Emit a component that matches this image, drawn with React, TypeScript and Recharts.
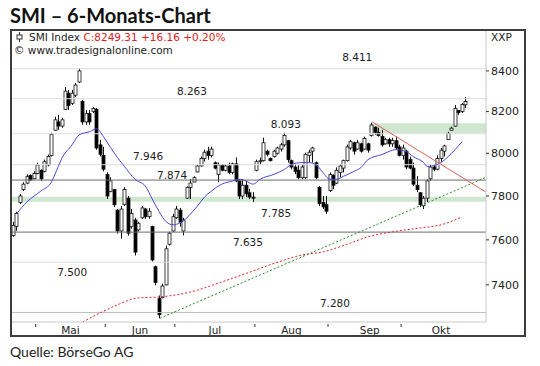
import { ComposedChart, Bar, Line, XAxis, YAxis, ReferenceLine, ReferenceArea, ReferenceDot } from 'recharts';

// daily SMI candles, Apr 22 - Oct 25
const opens = [
  7620, 7660, 7770, 7830, 7860, 7895, 7880, 7905, 7920, 7915, 7945, 7990, 8110, 8150, 8130, 8210, 8290, 8240, 8280, 8345,
  8250, 8150, 8190, 8200, 8210, 8040, 7990, 7900, 7820, 7830, 7735, 7640, 7760, 7790, 7660, 7690, 7645, 7700, 7740, 7705,
  7660, 7480, 7340, 7345, 7400, 7580, 7640, 7700, 7735, 7640, 7790, 7840, 7865, 7912, 7940, 7975, 8010, 7990, 7955, 7900,
  7945, 7920, 7940, 7910, 7950, 7870, 7800, 7850, 7815, 7795, 7920, 7960, 7965, 8010, 7975, 7985, 8000, 8020, 8040, 8060,
  7965, 7935, 7920, 7885, 7885, 7990, 8010, 7955, 7840, 7770, 7760, 7825, 7895, 7860, 7910, 7930, 7965, 8025, 8050, 8020,
  8045, 8020, 8045, 8085, 8125, 8100, 8080, 8045, 8065, 8045, 8060, 8030, 7990, 8010, 7970, 7930, 7850, 7815, 7755, 7790,
  7880, 7935, 7925, 7975, 8010, 8065, 8110, 8130, 8205, 8200, 8233,
];
const highs = [
  7682, 7727, 7809, 7864, 7901, 7901, 7915, 7956, 7924, 7970, 7994, 8098, 8175, 8184, 8170, 8320, 8306, 8306, 8340, 8411,
  8257, 8208, 8208, 8222, 8217, 8064, 8031, 7910, 7887, 7832, 7740, 7754, 7841, 7800, 7740, 7700, 7682, 7754, 7745, 7745,
  7664, 7485, 7354, 7406, 7574, 7637, 7718, 7754, 7745, 7700, 7845, 7878, 7892, 7947, 7984, 8017, 8031, 8031, 7961, 7956,
  7947, 7947, 7956, 7956, 7980, 7878, 7878, 7869, 7832, 7818, 7970, 7980, 8074, 8017, 7980, 8017, 8031, 8050, 8098, 8064,
  7970, 7947, 7947, 7947, 8003, 8017, 8031, 7961, 7846, 7800, 7800, 7910, 7901, 7933, 7947, 7970, 8041, 8064, 8055, 8064,
  8050, 8079, 8050, 8146, 8127, 8122, 8112, 8074, 8074, 8074, 8079, 8041, 8041, 8017, 7984, 7956, 7892, 7818, 7800, 7878,
  7947, 7947, 7990, 8025, 8041, 8102, 8127, 8232, 8208, 8242, 8271,
];
const lows = [
  7614, 7641, 7763, 7823, 7855, 7870, 7878, 7901, 7870, 7910, 7938, 7985, 8107, 8112, 8122, 8208, 8208, 8232, 8271, 8340,
  8136, 8136, 8136, 8193, 8017, 7985, 7915, 7786, 7818, 7749, 7628, 7605, 7754, 7619, 7650, 7530, 7637, 7695, 7695, 7695,
  7503, 7398, 7255, 7341, 7398, 7574, 7637, 7695, 7660, 7620, 7786, 7786, 7864, 7910, 7938, 7961, 7970, 7980, 7924, 7864,
  7915, 7915, 7901, 7901, 7864, 7786, 7786, 7795, 7786, 7772, 7915, 7947, 7961, 7985, 7961, 7980, 7994, 8008, 8031, 7956,
  7924, 7901, 7878, 7878, 7878, 7956, 7956, 7878, 7754, 7740, 7718, 7818, 7832, 7855, 7887, 7910, 7961, 8017, 7994, 8017,
  8003, 8017, 8003, 8079, 8088, 8079, 8031, 8041, 8031, 8031, 8017, 7985, 7970, 7924, 7924, 7846, 7818, 7749, 7740, 7772,
  7870, 7915, 7920, 7960, 7985, 8064, 8107, 8127, 8184, 8193, 8217,
];
const closes = [
  7665, 7720, 7800, 7855, 7890, 7875, 7905, 7945, 7880, 7960, 7985, 8090, 8160, 8130, 8160, 8300, 8230, 8290, 8330, 8400,
  8150, 8190, 8150, 8215, 8025, 7995, 7925, 7800, 7870, 7760, 7640, 7740, 7830, 7630, 7720, 7545, 7675, 7745, 7705, 7730,
  7510, 7410, 7270, 7395, 7560, 7630, 7705, 7740, 7680, 7690, 7840, 7860, 7885, 7940, 7975, 8005, 7990, 8020, 7930, 7945,
  7920, 7940, 7910, 7950, 7870, 7800, 7850, 7810, 7795, 7790, 7960, 7965, 8050, 7995, 7965, 8010, 8025, 8040, 8085, 7970,
  7935, 7915, 7885, 7935, 7995, 8005, 8025, 7885, 7765, 7750, 7730, 7900, 7850, 7920, 7940, 7965, 8030, 8055, 8010, 8050,
  8010, 8070, 8015, 8135, 8100, 8085, 8040, 8065, 8045, 8060, 8025, 7990, 8025, 7935, 7930, 7855, 7830, 7760, 7790, 7870,
  7935, 7925, 7975, 8015, 8035, 8095, 8120, 8215, 8195, 8235, 8249,
];

// blue moving average (read at these bar indices)
const maIdx = [1, 4, 8, 11, 13, 14, 17, 19, 22, 24, 26, 28, 30, 32, 35, 38, 40, 42, 44, 46, 48, 49, 51, 53, 55, 57, 60, 63, 65, 67, 69, 71, 75, 78, 80, 83, 85, 87, 89, 91, 93, 95, 98, 100, 102, 106, 110, 113, 115, 118, 119, 121, 123, 125, 127, 129];
const maVals = [7718, 7773, 7823, 7864, 7938, 7975, 8041, 8088, 8103, 8117, 8079, 8027, 7980, 7938, 7878, 7846, 7786, 7727, 7682, 7668, 7677, 7686, 7718, 7754, 7795, 7823, 7855, 7869, 7878, 7869, 7855, 7878, 7901, 7924, 7947, 7956, 7956, 7947, 7910, 7878, 7878, 7892, 7915, 7933, 7970, 7994, 8017, 8008, 7984, 7956, 7938, 7942, 7956, 7984, 8017, 8055];

// red long moving average
const slowIdx = [19, 25, 30, 36, 42, 51, 60, 68, 76, 83, 89, 97, 102, 109, 117, 123, 129];
const slowVals = [7231, 7278, 7313, 7343, 7347, 7369, 7413, 7456, 7500, 7532, 7546, 7586, 7614, 7636, 7654, 7668, 7704];

const monthStarts = [6.5, 26.5, 46.5, 69.5, 90.5, 111.5];
const monthMids = [16.5, 36.5, 58, 80, 102.5, 123];
const monthNames = ['Mai', 'Jun', 'Jul', 'Aug', 'Sep', 'Okt'];
const priceTicks = [7400, 7600, 7800, 8000, 8200, 8400];

const lightLevels = [8411, 8263, 8093, 7946, 7500, 7280];
const darkLevels = [7874, 7635];

const markLevels = [8411, 8263, 8093, 7946, 7874, 7785, 7635, 7500, 7280];
const markTexts = ['8.411', '8.263', '8.093', '7.946', '7.874', '7.785', '7.635', '7.500', '7.280'];
const markAt = [98.9, 51.4, 78.4, 38.8, 45.7, 75.6, 67.5, 17, 92.5];
const markDy = [-12, -8, -9.5, -8.7, -5, 13.7, 10, 10, -9.5];

const data = closes.map((c, i) => ({
  i,
  open: opens[i],
  high: highs[i],
  low: lows[i],
  close: c,
  range: [lows[i], highs[i]],
  ma: null as number | null,
  slow: null as number | null,
}));
maIdx.forEach((k, j) => (data[k].ma = maVals[j]));
slowIdx.forEach((k, j) => (data[k].slow = slowVals[j]));

function Candle(props: any) {
  const { x, y, width, height, payload } = props;
  if (x == null || !payload) return null;
  const { open, close, high, low } = payload;
  const cx = Math.round(x + width / 2) + 0.5;
  const span = Math.log(high) - Math.log(low) || 1;
  const py = (v: number) => y + (height * (Math.log(high) - Math.log(v))) / span;
  const top = py(Math.max(open, close));
  const bot = py(Math.min(open, close));
  const up = close >= open;
  return (
    <g>
      <line x1={cx} x2={cx} y1={y} y2={y + height} stroke="#111" strokeWidth={1} />
      <rect x={cx - 1.5} y={top} width={3} height={Math.max(bot - top, 1)}
        fill={up ? '#fff' : '#000'} stroke="#111" strokeWidth={0.8} />
    </g>
  );
}

function MonthTick(props: any) {
  const { x, y, payload } = props;
  const v = payload.value;
  if (monthStarts.includes(v)) {
    return <line x1={x} x2={x} y1={y + 2} y2={y + 5} stroke="#333" />;
  }
  const k = monthMids.indexOf(v);
  return (
    <text x={x} y={y + 8} textAnchor="middle" dominantBaseline="central" fontSize={10.5} fill="#222">
      {monthNames[k]}
    </text>
  );
}

const levelLabel = (text: string, dy: number) => (p: any) => {
  const vb = p.viewBox || {};
  return (
    <text x={vb.x + (vb.width || 0) / 2} y={vb.y + (vb.height || 0) / 2 + dy} textAnchor="middle"
      dominantBaseline="central" fontSize={10.5} fill="#222">
      {text}
    </text>
  );
};

export default function App() {
  return (
    <div style={{ position: 'absolute', left: 0, top: 0, width: 540, height: 366, background: '#fff', fontFamily: 'DejaVu Sans' }}>
      <div style={{ position: 'absolute', left: 10, top: 4, fontFamily: 'Lato', fontWeight: 700, fontSize: 20, lineHeight: '23px', color: '#111' }}>
        SMI – 6-Monats-Chart
      </div>
      <div style={{ position: 'absolute', left: 10, top: 29, width: 516, height: 308, boxSizing: 'border-box', border: '2px solid #3c3c3c' }}>
        <ComposedChart width={512} height={304} data={data} margin={{ top: 0, right: 0, bottom: 0, left: 0 }}
          style={{ overflow: 'visible' }}>
          <XAxis dataKey="i" type="number" domain={[-0.3, 135.9]} allowDataOverflow
            ticks={[...monthStarts, ...monthMids].sort((a, b) => a - b)} interval={0}
            tickLine={false} tickSize={0} tickMargin={0} height={13}
            axisLine={{ stroke: '#c8c8c8' }} tick={<MonthTick />} />
          <YAxis orientation="right" scale="log" domain={[7239, 8601]} allowDataOverflow
            ticks={priceTicks} interval={0} width={38} tickSize={3} tickMargin={2}
            axisLine={{ stroke: '#c8c8c8' }} tickLine={{ stroke: '#333' }}
            tick={{ fontSize: 11, fill: '#222' }} />
          <ReferenceArea y1={7773} y2={7797} fill="#cfe6cf" fillOpacity={1} stroke="none" />
          <ReferenceArea x1={102.8} x2={135.9} y1={8096} y2={8144} fill="#cfe6cf" fillOpacity={1} stroke="none" />
          {lightLevels.map((v) => (
            <ReferenceLine key={v} y={v} stroke={v === 7280 ? '#bdbdbd' : '#dedede'} strokeWidth={1} />
          ))}
          {darkLevels.map((v) => (
            <ReferenceLine key={v} y={v} stroke="#6a6a6a" strokeWidth={1} />
          ))}
          {markLevels.map((v, k) => (
            <ReferenceDot key={'m' + k} x={markAt[k]} y={v} r={1} fill="none" stroke="none"
              label={levelLabel(markTexts[k], markDy[k])} />
          ))}
          <Bar dataKey="range" barSize={3} isAnimationActive={false} shape={(p: any) => <Candle {...p} />} />
          <Line dataKey="ma" type="monotone" connectNulls dot={false} stroke="#4848d8" strokeWidth={1} isAnimationActive={false} />
          <Line dataKey="slow" type="monotone" connectNulls dot={false} stroke="#e02424" strokeWidth={1}
            strokeDasharray="2 2" isAnimationActive={false} />
          <ReferenceLine segment={[{ x: 103.2, y: 8150 }, { x: 135.9, y: 7818 }]} stroke="#e06060" strokeWidth={1} />
          <ReferenceLine segment={[{ x: 42.2, y: 7255 }, { x: 135.9, y: 7887 }]} stroke="#2c8c2c" strokeWidth={1}
            strokeDasharray="2 2" />
        </ComposedChart>
      </div>
      <svg style={{ position: 'absolute', left: 15, top: 32 }} width={8} height={10}>
        <line x1={4.5} x2={4.5} y1={0} y2={10} stroke="#333" />
        <rect x={2} y={3} width={5} height={4} fill="#fff" stroke="#333" />
      </svg>
      <div style={{ position: 'absolute', left: 29, top: 31, fontSize: 10.5, lineHeight: '12px', color: '#222', whiteSpace: 'nowrap' }}>
        SMI Index <span style={{ color: '#e02020' }}>C:8249.31 +16.16 +0.20%</span>
      </div>
      <div style={{ position: 'absolute', left: 14, top: 44, fontSize: 10.5, lineHeight: '12px', color: '#222', whiteSpace: 'nowrap' }}>
        © www.tradesignalonline.com
      </div>
      <div style={{ position: 'absolute', left: 491, top: 31, fontSize: 10.5, lineHeight: '12px', color: '#222' }}>XXP</div>
      <div style={{ position: 'absolute', left: 10, top: 343, fontFamily: 'Lato', fontSize: 14, lineHeight: '17px', color: '#222' }}>
        Quelle: BörseGo AG
      </div>
    </div>
  );
}
